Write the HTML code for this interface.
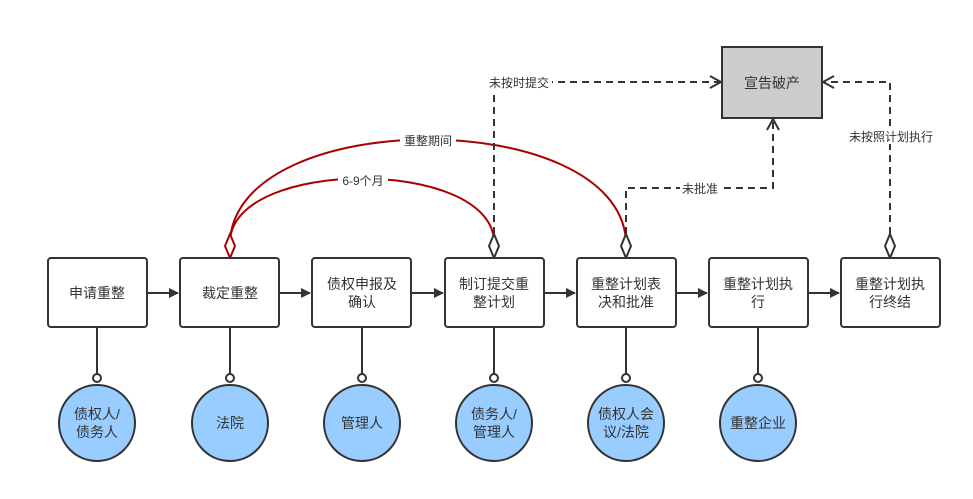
<!DOCTYPE html>
<html><head><meta charset="utf-8"><style>
body{margin:0;background:#fff}
svg text{font-family:"Liberation Sans","Noto Sans CJK SC",sans-serif;fill:#333}
</style></head><body>
<svg width="973" height="494" viewBox="0 0 973 494" xmlns="http://www.w3.org/2000/svg">
<defs>
<marker id="ar" markerWidth="10" markerHeight="10" refX="9" refY="5" orient="auto" markerUnits="userSpaceOnUse"><path d="M0,0 L10,5 L0,10 z" fill="#333"/></marker>
<marker id="op" markerWidth="14" markerHeight="14" refX="12" refY="7" orient="auto" markerUnits="userSpaceOnUse"><path d="M1,1 L12,7 L1,13" fill="none" stroke="#333" stroke-width="2"/></marker>
</defs>
<!-- red arcs -->
<g fill="none" stroke="#a00" stroke-width="2">
<path d="M230,240 C240,106 616,106 626,240"/>
<path d="M230,240 C236,158 488,158 494,240"/>
</g>
<rect x="400" y="132" width="56" height="16" fill="#fff"/>
<text x="428" y="145" font-size="12" text-anchor="middle">重整期间</text>
<rect x="338" y="172" width="50" height="16" fill="#fff"/>
<text x="363" y="185" font-size="12" text-anchor="middle">6-9个月</text>
<!-- dashed -->
<g fill="none" stroke="#333" stroke-width="2" stroke-dasharray="7,5">
<path d="M494,246 V82 H721" marker-end="url(#op)"/>
<path d="M626,246 V188 H773 V119" marker-end="url(#op)"/>
<path d="M890,246 V82 H823" marker-end="url(#op)"/>
</g>
<rect x="486" y="74" width="66" height="16" fill="#fff"/>
<text x="519" y="87" font-size="12" text-anchor="middle">未按时提交</text>
<rect x="680" y="180" width="40" height="16" fill="#fff"/>
<text x="700" y="193" font-size="12" text-anchor="middle">未批准</text>
<rect x="845" y="128" width="92" height="16" fill="#fff"/>
<text x="891" y="141" font-size="12" text-anchor="middle">未按照计划执行</text>
<!-- diamonds -->
<path d="M230,234 L235,246 L230,258 L225,246 z" fill="#fff" stroke="#a00" stroke-width="2"/>
<path d="M494,234 L499,246 L494,258 L489,246 z" fill="#fff" stroke="#333" stroke-width="2"/>
<path d="M626,234 L631,246 L626,258 L621,246 z" fill="#fff" stroke="#333" stroke-width="2"/>
<path d="M890,234 L895,246 L890,258 L885,246 z" fill="#fff" stroke="#333" stroke-width="2"/>
<!-- top box -->
<rect x="722" y="47" width="100" height="71" fill="#ccc" stroke="#333" stroke-width="2"/>
<text x="772" y="88" font-size="14" text-anchor="middle">宣告破产</text>
<!-- flow arrows -->
<g stroke="#333" stroke-width="2">
<line x1="148" y1="293" x2="178" y2="293" marker-end="url(#ar)"/>
<line x1="280" y1="293" x2="310" y2="293" marker-end="url(#ar)"/>
<line x1="412" y1="293" x2="443" y2="293" marker-end="url(#ar)"/>
<line x1="545" y1="293" x2="575" y2="293" marker-end="url(#ar)"/>
<line x1="677" y1="293" x2="707" y2="293" marker-end="url(#ar)"/>
<line x1="809" y1="293" x2="839" y2="293" marker-end="url(#ar)"/>
</g>
<g stroke="#333" stroke-width="2" fill="#fff">
<rect x="48" y="258" width="99" height="69" rx="3"/>
<rect x="180" y="258" width="99" height="69" rx="3"/>
<rect x="312" y="258" width="99" height="69" rx="3"/>
<rect x="445" y="258" width="99" height="69" rx="3"/>
<rect x="577" y="258" width="99" height="69" rx="3"/>
<rect x="709" y="258" width="99" height="69" rx="3"/>
<rect x="841" y="258" width="99" height="69" rx="3"/>
</g>
<g font-size="14" text-anchor="middle">
<text x="97" y="298">申请重整</text>
<text x="230" y="298">裁定重整</text>
<text x="362" y="289">债权申报及</text><text x="362" y="307">确认</text>
<text x="494" y="289">制订提交重</text><text x="494" y="307">整计划</text>
<text x="626" y="289">重整计划表</text><text x="626" y="307">决和批准</text>
<text x="758" y="289">重整计划执</text><text x="758" y="307">行</text>
<text x="890" y="289">重整计划执</text><text x="890" y="307">行终结</text>
</g>
<!-- circles -->
<g stroke="#333" stroke-width="2">
<line x1="97" y1="327" x2="97" y2="374"/><line x1="230" y1="327" x2="230" y2="374"/>
<line x1="362" y1="327" x2="362" y2="374"/><line x1="494" y1="327" x2="494" y2="374"/>
<line x1="626" y1="327" x2="626" y2="374"/><line x1="758" y1="327" x2="758" y2="374"/>
</g>
<g stroke="#333" stroke-width="2" fill="#fff">
<circle cx="97" cy="378" r="4"/><circle cx="230" cy="378" r="4"/><circle cx="362" cy="378" r="4"/>
<circle cx="494" cy="378" r="4"/><circle cx="626" cy="378" r="4"/><circle cx="758" cy="378" r="4"/>
</g>
<g stroke="#333" stroke-width="2" fill="#99ccff">
<circle cx="97" cy="423" r="38"/><circle cx="230" cy="423" r="38"/><circle cx="362" cy="423" r="38"/>
<circle cx="494" cy="423" r="38"/><circle cx="626" cy="423" r="38"/><circle cx="758" cy="423" r="38"/>
</g>
<g font-size="14" text-anchor="middle">
<text x="97" y="419">债权人/</text><text x="97" y="437">债务人</text>
<text x="230" y="428">法院</text>
<text x="362" y="428">管理人</text>
<text x="494" y="419">债务人/</text><text x="494" y="437">管理人</text>
<text x="626" y="419">债权人会</text><text x="626" y="437">议/法院</text>
<text x="758" y="428">重整企业</text>
</g>
</svg>
</body></html>
